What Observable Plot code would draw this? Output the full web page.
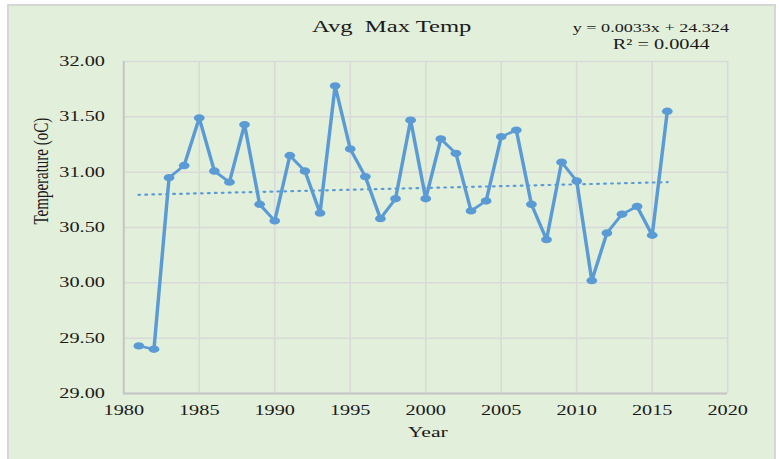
<!DOCTYPE html>
<html>
<head>
<meta charset="utf-8">
<script src="https://cdn.jsdelivr.net/npm/d3@7"></script>
<script src="https://cdn.jsdelivr.net/npm/@observablehq/plot@0.6"></script>
<style>
  html, body { margin: 0; padding: 0; background: #ffffff; }
  #panel {
    position: absolute; left: 7px; top: 4px; width: 769px; height: 460px;
    box-sizing: border-box; border: 2px solid #d6d6d6; border-bottom: none;
    background: #e2efda; overflow: hidden;
  }
</style>
</head>
<body>
<div id="panel"></div>
<script>
// ---- data ----
const years = [1981,1982,1983,1984,1985,1986,1987,1988,1989,1990,
               1991,1992,1993,1994,1995,1996,1997,1998,1999,2000,
               2001,2002,2003,2004,2005,2006,2007,2008,2009,2010,
               2011,2012,2013,2014,2015,2016];
const temps = [29.43,29.40,30.95,31.06,31.49,31.01,30.91,31.43,30.71,30.56,
               31.15,31.01,30.63,31.78,31.21,30.96,30.58,30.76,31.47,30.76,
               31.30,31.17,30.65,30.74,31.32,31.38,30.71,30.39,31.09,30.92,
               30.02,30.45,30.62,30.69,30.43,31.55];
const xTicks = [1980,1985,1990,1995,2000,2005,2010,2015,2020];
const yTicks = [29.0,29.5,30.0,30.5,31.0,31.5,32.0];
const titleText = "Avg  Max Temp";
const eqLine1 = "y = 0.0033x + 24.324";
const eqLine2 = "R² = 0.0044";
const xLabel = "Year";
const yLabel = "Temperature (oC)";

const data = years.map((year, i) => ({year, temp: temps[i]}));

// design space is drawn narrow, then stretched horizontally like the reference
const S = 1.449;
const W = 528, H = 456;
const blue = "#5b9bd5";
const font = "'Liberation Serif', 'Times New Roman', serif";

const chart = Plot.plot({
  width: W, height: H,
  marginLeft: 78.7, marginRight: 32.5, marginTop: 55, marginBottom: 69,
  style: {background: "none", fontFamily: font, fontSize: "14px", color: "#1a1a1a"},
  x: {domain: [1980, 2020], type: "linear"},
  y: {domain: [29, 32]},
  marks: [
    Plot.gridX(xTicks, {stroke: "#d9d9d9", strokeOpacity: 1, strokeWidth: 1.1}),
    Plot.gridY(yTicks, {stroke: "#d9d9d9", strokeOpacity: 1, strokeWidth: 1.5}),
    Plot.ruleX([xTicks[0]], {stroke: "#c4c4c4", strokeWidth: 1.3}),
    Plot.ruleY([yTicks[0]], {stroke: "#c4c4c4", strokeWidth: 1.8}),
    Plot.axisX(xTicks, {tickSize: 0, tickPadding: 12, tickFormat: "d", label: null, fontSize: 14, fill: "#1a1a1a"}),
    Plot.axisY(yTicks, {tickSize: 0, tickPadding: 13, tickFormat: d => d.toFixed(2), label: null, fontSize: 14, fill: "#1a1a1a"}),
    Plot.linearRegressionY(data, {x: "year", y: "temp", ci: 0, stroke: blue, strokeWidth: 2.2, strokeDasharray: "0.6,4.2", strokeLinecap: "round"}),
    Plot.line(data, {x: "year", y: "temp", stroke: blue, strokeWidth: 2.4, strokeLinejoin: "round"}),
    Plot.dot(data, {x: "year", y: "temp", r: 3.7, fill: blue, stroke: null}),
    Plot.text([titleText], {frameAnchor: "top", dx: -23.5, dy: -35, lineAnchor: "middle", fontSize: 17, fill: "#1a1a1a"}),
    Plot.text([eqLine1], {frameAnchor: "top-left", dx: 309.9, dy: -34, textAnchor: "start", lineAnchor: "middle", fontSize: 12.5, fill: "#1a1a1a"}),
    Plot.text([eqLine2], {frameAnchor: "top-left", dx: 337.5, dy: -17, textAnchor: "start", lineAnchor: "middle", fontSize: 14, fill: "#1a1a1a"}),
    Plot.text([xLabel], {frameAnchor: "bottom", dx: 1.4, dy: 39, lineAnchor: "middle", fontSize: 15, fill: "#1a1a1a"}),
    Plot.text([yLabel], {frameAnchor: "left", dx: -57, dy: -3, rotate: -90, lineAnchor: "middle", fontSize: 15, fill: "#1a1a1a"})
  ]
});

chart.setAttribute("viewBox", `0 0 ${W} ${H}`);
chart.setAttribute("preserveAspectRatio", "none");
chart.setAttribute("width", W * S);
chart.setAttribute("height", H);
chart.style.width = (W * S) + "px";
chart.style.height = H + "px";
chart.style.maxWidth = "none";
chart.style.display = "block";
document.getElementById("panel").appendChild(chart);
</script>
</body>
</html>
